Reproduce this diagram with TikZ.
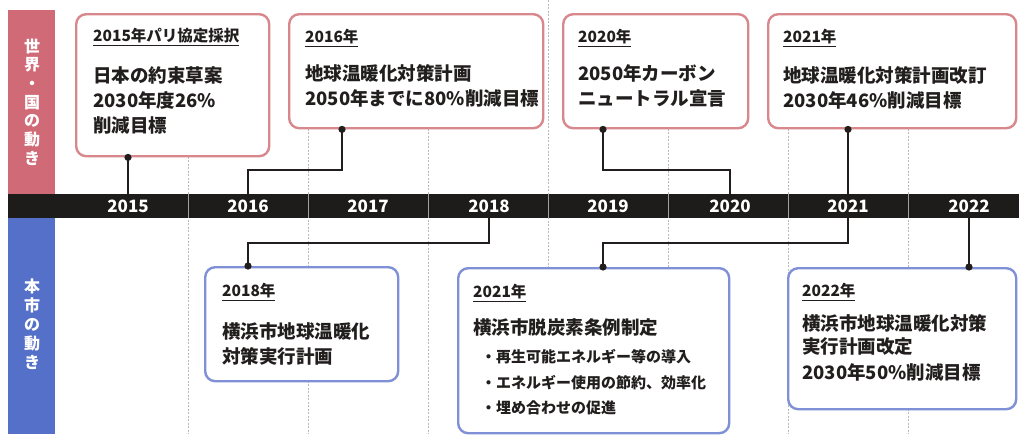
\documentclass[tikz,border=0pt]{standalone}
\usepackage{fontspec}
\setmainfont{Noto Sans CJK JP}
\definecolor{redband}{RGB}{208,106,118}
\definecolor{blueband}{RGB}{84,112,200}
\definecolor{rboxc}{RGB}{216,136,140}
\definecolor{bboxc}{RGB}{128,144,214}
\definecolor{barc}{RGB}{30,27,27}
\definecolor{ink}{RGB}{34,30,30}
\definecolor{gridc}{RGB}{185,185,185}
\definecolor{divc}{RGB}{160,160,160}
\begin{document}
\begin{tikzpicture}[x=1pt,y=-1pt,
  rbox/.style={draw=rboxc, line width=2.4pt, rounded corners=10pt, fill=white, anchor=north west, inner sep=0pt},
  bbox/.style={rbox, draw=bboxc},
  head/.style={anchor=west, inner sep=0pt, text=ink, font=\bfseries\fontsize{15.5pt}{18pt}\selectfont},
  body/.style={anchor=west, inner sep=0pt, text=ink, font=\bfseries\fontsize{18.5pt}{22pt}\selectfont},
  bul/.style={anchor=west, inner sep=0pt, text=ink, font=\bfseries\fontsize{15pt}{18pt}\selectfont},
  yr/.style={text=white, inner sep=0pt, font=\bfseries\fontsize{17pt}{20pt}\selectfont},
  vlab/.style={text=white, inner sep=0pt, align=center},
  conn/.style={line width=1.8pt, draw=ink},
  dotc/.style={fill=ink},
  gridl/.style={draw=gridc, line width=0.9pt, dash pattern=on 2pt off 1.5pt},
  divl/.style={draw=divc, line width=0.8pt}
]
\useasboundingbox (0,0) rectangle (1019,434);
\fill[white] (0,0) rectangle (1019,434);

% dashed year grid
\foreach \gx in {188,308,428,668,788,908}{\draw[gridl] (\gx,13) -- (\gx,434);}
\draw[gridl] (548,0) -- (548,434);

% side bands
\node (redb) [fill=redband, anchor=north west, inner sep=0pt, minimum width=47pt, minimum height=184pt] at (8,10) {};
\node (blueb) [fill=blueband, anchor=north west, inner sep=0pt, minimum width=47pt, minimum height=216pt] at (8,218) {};
\node (redt) [vlab, font=\bfseries\fontsize{16pt}{18.7pt}\selectfont] at (32,102) {世\\界\\・\\国\\の\\動\\き};
\node (bluet) [vlab, font=\bfseries\fontsize{16pt}{19pt}\selectfont] at (32,324) {本\\市\\の\\動\\き};

% timeline bar
\node (bar) [fill=barc, anchor=north west, inner sep=0pt, minimum width=1011pt, minimum height=24pt] at (8,194) {};
\foreach \gx in {188,308,428,548,668,788,908}{\draw[divl] (\gx,194) -- (\gx,218);}
\node[yr] (y2015) at (128,206) {2015};
\node[yr] (y2016) at (248,206) {2016};
\node[yr] (y2017) at (368,206) {2017};
\node[yr] (y2018) at (489,206) {2018};
\node[yr] (y2019) at (608,206) {2019};
\node[yr] (y2020) at (730,206) {2020};
\node[yr] (y2021) at (848,206) {2021};
\node[yr] (y2022) at (969,206) {2022};

% top boxes
\node (b2015) [rbox, minimum width=193pt, minimum height=142pt] at (75,13) {};
\node (b2016) [rbox, minimum width=254pt, minimum height=114pt] at (288,13) {};
\node (b2020) [rbox, minimum width=185pt, minimum height=114pt] at (562,13) {};
\node (b2021t) [rbox, minimum width=248pt, minimum height=114pt] at (767,13) {};
% bottom boxes
\node (b2018) [bbox, minimum width=193pt, minimum height=114pt] at (204,266) {};
\node (b2021b) [bbox, minimum width=271pt, minimum height=165pt] at (457,267) {};
\node (b2022) [bbox, minimum width=228pt, minimum height=141pt] at (787,267) {};

% texts top
\node[head] (h2015) at (93,37) {\underline{2015年パリ協定採択}};
\node[body] (t2015a) at (93,75) {日本の約束草案};
\node[body] (t2015b) at (93,100) {2030年度26\%};
\node[body] (t2015c) at (93,125) {削減目標};

\node[head] (h2016) at (305,38) {\underline{2016年}};
\node[body] (t2016a) at (305,73) {地球温暖化対策計画};
\node[body] (t2016b) at (305,98) {2050年までに80\%削減目標};

\node[head] (h2020) at (578,38) {\underline{2020年}};
\node[body] (t2020a) at (578,73) {2050年カーボン};
\node[body] (t2020b) at (578,98) {ニュートラル宣言};

\node[head] (h2021t) at (783,38) {\underline{2021年}};
\node[body] (t2021a) at (783,75) {地球温暖化対策計画改訂};
\node[body] (t2021b) at (783,100) {2030年46\%削減目標};

% texts bottom
\node[head] (h2018) at (222,292) {\underline{2018年}};
\node[body] (t2018a) at (222,331) {横浜市地球温暖化};
\node[body] (t2018b) at (222,356) {対策実行計画};

\node[head] (h2021b) at (473,293) {\underline{2021年}};
\node[body] (t2021c) at (473,327) {横浜市脱炭素条例制定};
\node[bul] (u1) at (481,357) {・再生可能エネルギー等の導入};
\node[bul] (u2) at (481,383) {・エネルギー使用の節約、効率化};
\node[bul] (u3) at (481,408) {・埋め合わせの促進};

\node[head] (h2022) at (802,292) {\underline{2022年}};
\node[body] (t2022a) at (802,323) {横浜市地球温暖化対策};
\node[body] (t2022b) at (802,347) {実行計画改定};
\node[body] (t2022c) at (802,372) {2030年50\%削減目標};

% connectors
\coordinate (k16) at (342,170);
\coordinate (k20) at (603,170);
\coordinate (k18) at (248,243);
\coordinate (k21) at (603,243);

\draw[conn] (b2015.south -| y2015) -- (y2015 |- bar.north);
\draw[conn] (b2016.south -| k16) -- (k16) -| (y2016 |- bar.north);
\draw[conn] (b2020.south -| k20) -- (k20) -| (y2020 |- bar.north);
\draw[conn] (b2021t.south -| y2021) -- (y2021 |- bar.north);
\draw[conn] (y2018 |- bar.south) |- (k18) -- (b2018.north -| k18);
\draw[conn] (y2021 |- bar.south) |- (k21) -- (b2021b.north -| k21);
\draw[conn] (y2022 |- bar.south) -- (b2022.north -| y2022);

\fill[dotc] (b2015.south -| y2015) circle (3.6pt);
\fill[dotc] (b2016.south -| k16) circle (3.6pt);
\fill[dotc] (b2020.south -| k20) circle (3.6pt);
\fill[dotc] (b2021t.south -| y2021) circle (3.6pt);
\fill[dotc] (b2018.north -| k18) circle (3.6pt);
\fill[dotc] (b2021b.north -| k21) circle (3.6pt);
\fill[dotc] (b2022.north -| y2022) circle (3.6pt);
\end{tikzpicture}
\end{document}
